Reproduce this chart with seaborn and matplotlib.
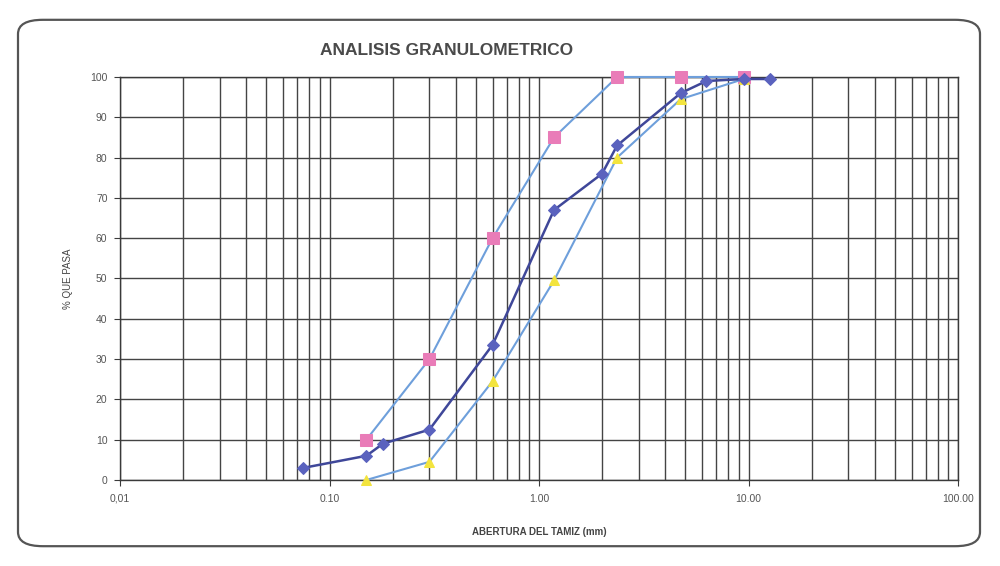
import matplotlib
matplotlib.use("Agg")
import matplotlib.pyplot as plt
from matplotlib.patches import FancyBboxPatch
from matplotlib.ticker import FixedLocator, FixedFormatter, LogLocator, NullFormatter
import seaborn as sns
import pandas as pd

# ---- data ----
blue_x = [0.075, 0.15, 0.18, 0.30, 0.60, 1.18, 2.00, 2.36, 4.75, 6.30, 9.50, 12.70]
blue_y = [3.0, 6.0, 9.0, 12.5, 33.5, 67.0, 76.0, 83.0, 96.0, 99.0, 99.5, 99.5]
pink_x = [0.15, 0.30, 0.60, 1.18, 2.36, 4.75, 9.50]
pink_y = [10.0, 30.0, 60.0, 85.0, 100.0, 100.0, 100.0]
yellow_x = [0.15, 0.30, 0.60, 1.18, 2.36, 4.75, 9.50]
yellow_y = [0.0, 4.5, 24.5, 49.5, 80.0, 94.5, 99.5]

x_ticks = [0.01, 0.1, 1, 10, 100]
x_tick_labels = ["0,01", "0.10", "1.00", "10.00", "100.00"]
y_ticks = [0, 10, 20, 30, 40, 50, 60, 70, 80, 90, 100]

title = "ANALISIS GRANULOMETRICO"
xlabel = "ABERTURA DEL TAMIZ (mm)"
ylabel = "% QUE PASA"

df = pd.concat([
    pd.DataFrame({"x": blue_x, "y": blue_y, "serie": "A"}),
    pd.DataFrame({"x": pink_x, "y": pink_y, "serie": "B"}),
    pd.DataFrame({"x": yellow_x, "y": yellow_y, "serie": "C"}),
], ignore_index=True)

sns.set_theme(style="white")
plt.rcParams["font.family"] = ["Liberation Sans", "DejaVu Sans"]

fig = plt.figure(figsize=(10, 5.66), dpi=100)
fig.patch.set_facecolor("white")

# chart-area rounded border
border = FancyBboxPatch((0.018, 0.035), 0.962, 0.93,
                        boxstyle="round,pad=0,rounding_size=0.025",
                        transform=fig.transFigure, facecolor="none",
                        edgecolor="#555555", linewidth=1.6, zorder=0)
fig.patches.append(border)

ax = fig.add_axes([0.12, 0.152, 0.838, 0.712])
ax.set_xscale("log")
ax.set_xlim(0.01, 100)
ax.set_ylim(0, 100)

# grid
ax.xaxis.set_major_locator(FixedLocator(x_ticks))
ax.xaxis.set_major_formatter(FixedFormatter(x_tick_labels))
ax.xaxis.set_minor_locator(LogLocator(base=10, subs=range(2, 10), numticks=20))
ax.xaxis.set_minor_formatter(NullFormatter())
ax.set_yticks(y_ticks)
ax.grid(which="major", axis="both", color="#444444", linewidth=1.0)
ax.grid(which="minor", axis="x", color="#444444", linewidth=1.0)
ax.set_axisbelow(True)

styles = {
    "A": dict(line="#3F4799", face="#5A62BE", marker="D", size=6.5, lw=1.8),
    "B": dict(line="#6E9FDB", face="#E97CB8", marker="s", size=8.5, lw=1.5),
    "C": dict(line="#6E9FDB", face="#F3E43E", marker="^", size=7.5, lw=1.5),
}
for key in ["B", "C", "A"]:
    st = styles[key]
    sub = df[df["serie"] == key]
    sns.lineplot(data=sub, x="x", y="y", sort=False, ax=ax, color=st["line"],
                 linewidth=st["lw"], marker=st["marker"], markersize=st["size"],
                 markerfacecolor=st["face"], markeredgecolor=st["face"],
                 clip_on=False, zorder=3, legend=False)

for s in ax.spines.values():
    s.set_color("#3a3a3a")
    s.set_linewidth(1.0)

ax.tick_params(axis="both", which="major", length=4, width=0.8, color="#3a3a3a",
               labelsize=7.5, labelcolor="#555555", direction="out")
ax.tick_params(axis="x", which="minor", length=0)
ax.tick_params(axis="x", pad=6)
ax.tick_params(axis="y", pad=5)
ax.yaxis.set_ticks_position("left")
ax.xaxis.set_ticks_position("bottom")

ax.set_xlabel(xlabel, fontsize=7, fontweight="bold", color="#444444", labelpad=17)
ax.set_ylabel(ylabel, fontsize=7, color="#444444", labelpad=12)
fig.text(0.447, 0.91, title, ha="center", va="center", fontsize=12.5,
         fontweight="bold", color="#4a4a4a")

fig.savefig("out.png", dpi=100, facecolor="white")
